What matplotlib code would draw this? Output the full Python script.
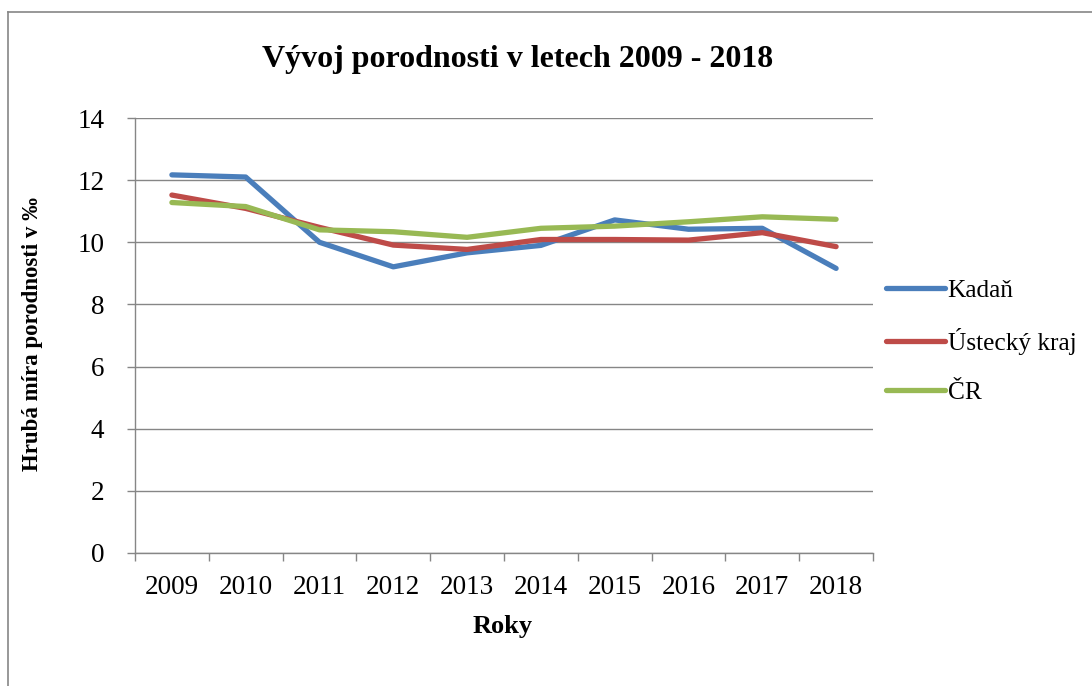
import matplotlib
matplotlib.use("Agg")
import matplotlib.pyplot as plt
from matplotlib.lines import Line2D
import numpy as np

years = ["2009", "2010", "2011", "2012", "2013", "2014", "2015", "2016", "2017", "2018"]
kadan = [12.17, 12.10, 10.00, 9.21, 9.66, 9.90, 10.72, 10.42, 10.45, 9.16]
ustecky = [11.52, 11.09, 10.48, 9.91, 9.77, 10.09, 10.09, 10.07, 10.31, 9.86]
cr = [11.28, 11.15, 10.40, 10.34, 10.16, 10.45, 10.52, 10.66, 10.82, 10.74]
series_names = ["Kadaň", "Ústecký kraj", "ČR"]
colors = ["#4A7EBB", "#BE4B48", "#98B954"]

plt.rcParams['font.family'] = ['Liberation Serif', 'DejaVu Serif']

W, H = 1092, 686
fig = plt.figure(figsize=(W / 100, H / 100), dpi=100)
ax = fig.add_axes([135 / W, 1 - 553 / H, (873 - 135) / W, (553 - 118) / H])

x = np.arange(len(years))
for vals, name, c in zip([kadan, ustecky, cr], series_names, colors):
    ax.plot(x, vals, color=c, lw=3.8, solid_capstyle='round', solid_joinstyle='round', label=name)

ax.set_xlim(-0.5, len(years) - 0.5)
ax.set_ylim(0, 14)
ax.set_yticks(np.arange(0, 15, 2))
ax.set_yticklabels([str(v) for v in range(0, 15, 2)], fontsize=19.5)
ax.set_xticks(x)
ax.set_xticklabels(years, fontsize=19.5)
ax.tick_params(axis='x', which='major', length=0, pad=16)
ax.set_xticks(np.arange(-0.5, len(years), 1), minor=True)
ax.tick_params(axis='x', which='minor', length=6, color='#868686', width=1)
ax.tick_params(axis='y', length=6, color='#868686', width=1, pad=16)
ax.grid(axis='y', color='#868686', lw=1)
ax.set_axisbelow(True)
for s in ['top', 'right']:
    ax.spines[s].set_visible(False)
for s in ['left', 'bottom']:
    ax.spines[s].set_color('#868686')
    ax.spines[s].set_linewidth(1)

fig.text(503 / W, 1 - 627 / H, "Roky", fontsize=19, fontweight='bold', ha='center', va='center')
fig.text(33 / W, 1 - 334 / H, "Hrubá míra porodnosti v ‰", fontsize=16.5, fontweight='bold',
         ha='center', va='center', rotation=90)
fig.text(518 / W, 1 - 60 / H, "Vývoj porodnosti v letech 2009 - 2018", fontsize=23,
         fontweight='bold', ha='center', va='center')

handles = [Line2D([0], [0], color=c, lw=3.8, solid_capstyle='round') for c in colors]
fig.legend(handles, series_names, loc='upper left', bbox_to_anchor=(876 / W, 1 - 269 / H),
           frameon=False, fontsize=18.3, handlelength=2.3, handletextpad=0.12,
           labelspacing=1.02, borderaxespad=0)

# outer chart border (only left and top visible)
fig.add_artist(Line2D([7.5 / W, 7.5 / W], [0, 1 - 11.5 / H], color='#868686', lw=1.2))
fig.add_artist(Line2D([7.5 / W, 1], [1 - 11.5 / H, 1 - 11.5 / H], color='#868686', lw=1.2))

fig.savefig("out.png", dpi=100)
